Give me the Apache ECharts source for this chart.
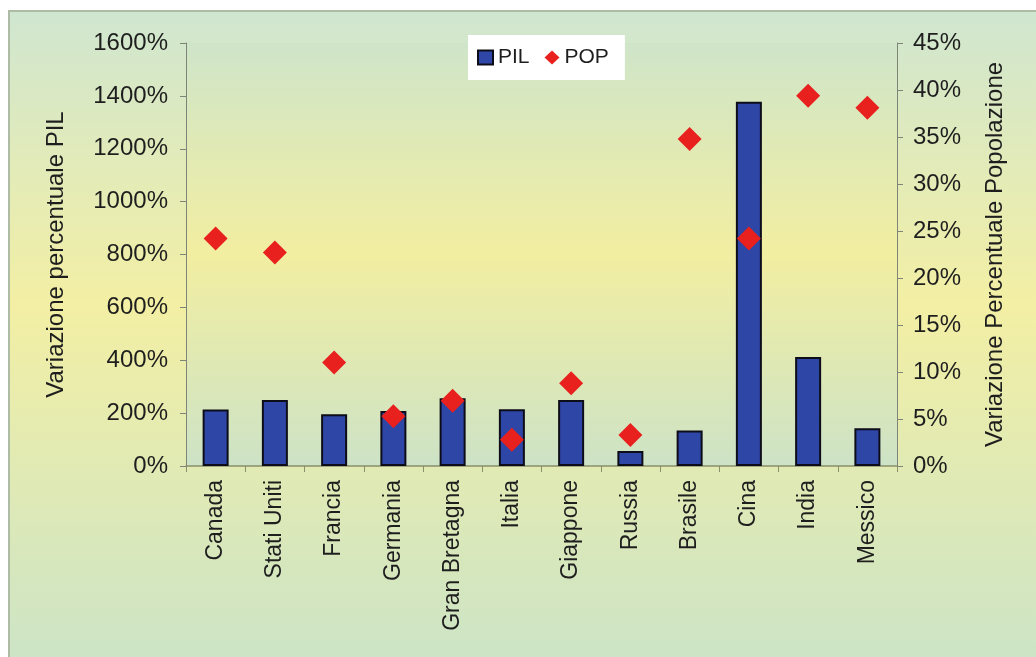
<!DOCTYPE html>
<html>
<head>
<meta charset="utf-8">
<title>Variazione percentuale PIL e popolazione</title>
<script src="https://cdn.jsdelivr.net/npm/echarts@6/dist/echarts.min.js"></script>
<style>
  html, body { margin: 0; padding: 0; background: #ffffff; }
  #chart { width: 1036px; height: 657px; }
</style>
</head>
<body>
<div id="chart"></div>
<script>
// Paesi sull'asse delle categorie
const paesi = ['Canada', 'Stati Uniti', 'Francia', 'Germania', 'Gran Bretagna', 'Italia',
               'Giappone', 'Russia', 'Brasile', 'Cina', 'India', 'Messico'];
// Variazione percentuale del PIL (asse sinistro, %)
const pil = [214, 250, 196, 208, 256, 215, 250, 57, 134, 1378, 412, 143];
// Variazione percentuale della popolazione (asse destro, %)
const pop = [24.2, 22.7, 11.0, 5.3, 6.95, 2.8, 8.8, 3.3, 34.8, 24.2, 39.4, 38.1];

const FONT = '"Liberation Sans", Arial, sans-serif';
const TXT = '#1e1e1e';
// etichette percentuali senza separatore delle migliaia
const perc = v => String(v) + '%';

const chart = echarts.init(document.getElementById('chart'), null, { renderer: 'canvas' });

const option = {
  backgroundColor: '#ffffff',
  textStyle: { fontFamily: FONT, color: TXT },
  graphic: [
    {
      type: 'rect',
      z: -100,
      silent: true,
      shape: { x: 9, y: 11, width: 1030, height: 650 },
      style: {
        fill: new echarts.graphic.LinearGradient(0, 0, 0, 1, [
          { offset: 0, color: '#cfe6d0' },
          { offset: 0.45, color: '#f3efa4' },
          { offset: 1, color: '#cce4c6' }
        ]),
        stroke: '#aebca6',
        lineWidth: 2
      }
    }
  ],
  legend: {
    left: 468,
    top: 35,
    padding: [12, 16, 12, 9],
    backgroundColor: '#ffffff',
    itemWidth: 15,
    itemHeight: 14,
    itemGap: 15,
    textStyle: { fontSize: 21, color: TXT, fontFamily: FONT },
    data: [
      { name: 'PIL', icon: 'rect' },
      { name: 'POP', icon: 'diamond' }
    ]
  },
  grid: {
    left: 186,
    right: 139,
    top: 43,
    bottom: 191,
    show: true,
    borderWidth: 0,
    backgroundColor: new echarts.graphic.LinearGradient(0, 0, 0, 1, [
      { offset: 0, color: '#cfe5c9' },
      { offset: 0.5, color: '#f2eea1' },
      { offset: 1, color: '#cde3c6' }
    ])
  },
  xAxis: {
    type: 'category',
    data: paesi,
    boundaryGap: true,
    axisLine: { lineStyle: { color: '#8a8f6a', width: 1.5 } },
    axisTick: { show: true, length: 6, alignWithLabel: false, lineStyle: { color: '#8a8f6a' } },
    axisLabel: {
      rotate: 90,
      interval: 0,
      margin: 14,
      fontSize: 23,
      color: TXT,
      fontFamily: FONT
    },
    splitLine: { show: false }
  },
  yAxis: [
    {
      type: 'value',
      min: 0,
      max: 1600,
      interval: 200,
      position: 'left',
      name: 'Variazione percentuale PIL',
      nameLocation: 'middle',
      nameRotate: 90,
      nameGap: 118,
      nameTextStyle: { fontSize: 24, color: TXT, fontFamily: FONT },
      axisLine: { show: true, lineStyle: { color: '#7f8478', width: 1 } },
      axisTick: { show: true, length: 6, lineStyle: { color: '#7f8478' } },
      axisLabel: { formatter: perc, fontSize: 24, margin: 18, color: TXT, fontFamily: FONT },
      splitLine: { show: false }
    },
    {
      type: 'value',
      min: 0,
      max: 45,
      interval: 5,
      position: 'right',
      name: 'Variazione Percentuale Popolazione',
      nameLocation: 'middle',
      nameRotate: 90,
      nameGap: 86,
      nameTextStyle: { fontSize: 24, color: TXT, fontFamily: FONT },
      axisLine: { show: true, lineStyle: { color: '#7f8478', width: 1 } },
      axisTick: { show: true, length: 6, lineStyle: { color: '#7f8478' } },
      axisLabel: { formatter: perc, fontSize: 24, margin: 16, color: TXT, fontFamily: FONT },
      splitLine: { show: false }
    }
  ],
  series: [
    {
      name: 'PIL',
      type: 'bar',
      yAxisIndex: 0,
      data: pil,
      barWidth: 26,
      itemStyle: { color: '#2e46a6', borderColor: '#0d0d1a', borderWidth: 2 }
    },
    {
      name: 'POP',
      type: 'scatter',
      yAxisIndex: 1,
      data: pop,
      symbol: 'diamond',
      symbolSize: 24,
      z: 5,
      itemStyle: { color: '#e8201e', opacity: 1 }
    }
  ],
  animation: false
};

chart.setOption(option);
</script>
</body>
</html>
